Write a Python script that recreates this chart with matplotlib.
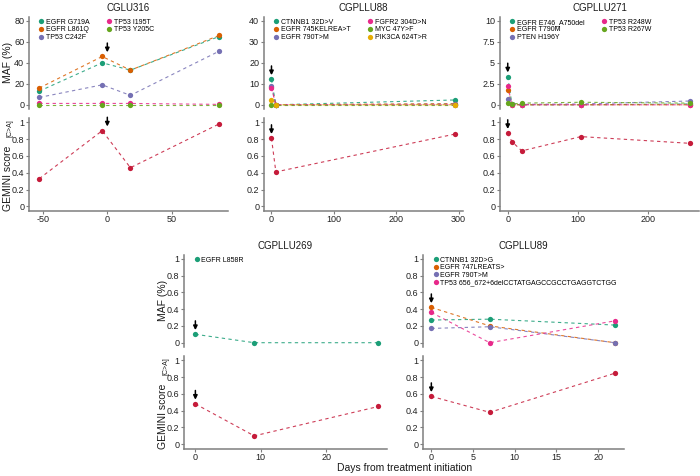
import numpy as np
import matplotlib
matplotlib.use("Agg")
import matplotlib.pyplot as plt
from matplotlib.lines import Line2D

plt.rcParams['font.family'] = ['Liberation Sans', 'DejaVu Sans']

dark2 = ['#1B9E77', '#D95F02', '#7570B3', '#E7298A', '#66A61E', '#E6AB02']
gem_col = '#C51B3A'

# ---- data ----
cglu316_days = [-53, -4, 18, 87]
cglu316_genes = ['EGFR G719A', 'EGFR L861Q', 'TP53 C242F', 'TP53 I195T', 'TP53 Y205C']
cglu316_maf = [[13, 40, 33, 65],
               [16, 46, 33, 66],
               [7, 19, 9, 51],
               [1.3, 1.3, 1.3, 0.4],
               [0, 0, 0, 0]]
cglu316_gemini = [0.33, 0.90, 0.46, 0.98]

cgpllu88_days = [0, 7, 294]
cgpllu88_genes = ['CTNNB1 32D>V', 'EGFR 745KELREA>T', 'EGFR 790T>M',
                  'FGFR2 304D>N', 'MYC 47Y>F', 'PIK3CA 624T>R']
cgpllu88_maf = [[12.1, 0, 2.3],
                [8.5, 0, 0.6],
                [8.9, 0, 0.3],
                [8.0, 0, 0],
                [0, 0, 0],
                [2.5, 0, 0]]
cgpllu88_gemini = [0.81, 0.41, 0.86]

cgpllu271_days = [0, 6, 20, 104, 259]
cgpllu271_genes = ['EGFR E746_A750del', 'EGFR T790M', 'PTEN H196Y', 'TP53 R248W', 'TP53 R267W']
cgpllu271_maf = [[3.35, 0.05, 0, 0, 0.1],
                 [1.75, 0, 0, 0, 0],
                 [0.68, 0.1, 0.05, 0.1, 0.45],
                 [2.27, 0, 0, 0, 0],
                 [0.16, 0.1, 0.2, 0.3, 0.2]]
cgpllu271_gemini = [0.87, 0.77, 0.66, 0.83, 0.75]

cgpllu269_days = [0, 9, 28]
cgpllu269_genes = ['EGFR L858R']
cgpllu269_maf = [[0.1, 0, 0]]
cgpllu269_gemini = [0.48, 0.10, 0.45]

cgpllu89_days = [0, 7, 22]
cgpllu89_genes = ['CTNNB1 32D>G', 'EGFR 747LREATS>', 'EGFR 790T>M',
                  'TP53 656_672+6delCCTATGAGCCGCCTGAGGTCTGG']
cgpllu89_maf = [[0.27, 0.28, 0.21],
                [0.42, 0.20, 0],
                [0.17, 0.19, 0],
                [0.36, 0, 0.26]]
cgpllu89_gemini = [0.57, 0.38, 0.845]

W, H = 700, 476
fig = plt.figure(figsize=(7, 4.76), dpi=100)


def px_axes(left, top, right, bottom):
    return fig.add_axes([left / W, 1 - bottom / H, (right - left) / W, (bottom - top) / H])


def style(ax, xaxis=True):
    for s in ['top', 'right']:
        ax.spines[s].set_visible(False)
    for s in ['left', 'bottom']:
        ax.spines[s].set_color('#7f7f7f')
        ax.spines[s].set_linewidth(1.1)
    ax.tick_params(length=2, width=0.8, color='#7f7f7f', labelsize=6.5,
                   labelcolor='#222222', pad=1.5)
    if not xaxis:
        ax.spines['bottom'].set_visible(False)
        ax.tick_params(axis='x', bottom=False, labelbottom=False)


def fmt(v):
    return '%g' % v


def arrow(ax, ytop, yrange):
    # treatment start marker at day 0
    tip = ytop + 0.05 * yrange
    tail = tip + 0.11 * yrange
    ax.annotate('', xy=(0, tip), xytext=(0, tail),
                arrowprops=dict(arrowstyle='-|>', color='black', lw=1.1,
                                mutation_scale=6, shrinkA=0, shrinkB=0),
                annotation_clip=False)


def panel(name, days, genes, maf, gemini, left, top, right, xlim, xticks, yticks_maf,
          ncol, ylab_x=None):
    ymax = yticks_maf[-1]
    ax1 = px_axes(left, top, right, top + 92.4)
    ax2 = px_axes(left, top + 101.5, right, top + 194)
    i0 = int(np.argmin(np.abs(days)))

    # MAF panel
    for i, vals in enumerate(maf):
        ax1.plot(days, vals, color=dark2[i], lw=0.8, ls=(0, (3, 3)), alpha=0.85)
    for i, vals in enumerate(maf):
        ax1.plot(days, vals, 'o', color=dark2[i], ms=3.8, mec='none')
    ax1.set_xlim(xlim)
    ax1.set_ylim(-0.05 * ymax, 1.05 * ymax)
    ax1.set_yticks(yticks_maf)
    ax1.set_yticklabels([fmt(v) for v in yticks_maf])
    style(ax1, xaxis=False)
    arrow(ax1, max(v[i0] for v in maf), ymax)
    handles = [Line2D([], [], marker='o', ls='none', color=dark2[i], ms=3.8, mec='none')
               for i in range(len(genes))]
    ax1.legend(handles, genes, ncol=ncol, loc='upper left', bbox_to_anchor=(0.045, 0.975),
               frameon=False, fontsize=5, handletextpad=0.2, handlelength=1.0,
               labelspacing=0.08, columnspacing=2.2, borderaxespad=0, borderpad=0)
    ax1.set_title(name, fontsize=7, color='#1a1a1a', pad=4)

    # GEMINI panel
    ax2.plot(days, gemini, color=gem_col, lw=0.8, ls=(0, (3, 3)), alpha=0.85)
    ax2.plot(days, gemini, 'o', color=gem_col, ms=3.8, mec='none')
    ax2.set_xlim(xlim)
    ax2.set_ylim(-0.05, 1.05)
    gt = [0, 0.2, 0.4, 0.6, 0.8, 1]
    ax2.set_yticks(gt)
    ax2.set_yticklabels([fmt(v) for v in gt])
    ax2.set_xticks(xticks)
    ax2.set_xticklabels([fmt(v) for v in xticks])
    style(ax2)
    arrow(ax2, gemini[i0], 1.0)

    if ylab_x is not None:
        fig.text(ylab_x / W, 1 - (top + 46) / H, 'MAF (%)', rotation=90,
                 ha='center', va='center', fontsize=7.5, color='#1a1a1a')
        fig.text(ylab_x / W, 1 - (top + 162) / H, 'GEMINI score', rotation=90,
                 ha='center', va='center', fontsize=7.5, color='#1a1a1a')
        fig.text((ylab_x + 2.5) / W, 1 - (top + 112) / H, '[C>A]', rotation=90,
                 ha='center', va='center', fontsize=5, color='#1a1a1a')


panel('CGLU316', cglu316_days, cglu316_genes, cglu316_maf, cglu316_gemini,
      29, 16.6, 228, (-61, 94), [-50, 0, 50], [0, 20, 40, 60, 80], 2, ylab_x=8)
panel('CGPLLU88', cgpllu88_days, cgpllu88_genes, cgpllu88_maf, cgpllu88_gemini,
      264, 16.6, 463, (-12, 307), [0, 100, 200, 300], [0, 10, 20, 30, 40], 2)
panel('CGPLLU271', cgpllu271_days, cgpllu271_genes, cgpllu271_maf, cgpllu271_gemini,
      500, 16.6, 699, (-11, 272), [0, 100, 200], [0, 2.5, 5, 7.5, 10], 2)
panel('CGPLLU269', cgpllu269_days, cgpllu269_genes, cgpllu269_maf, cgpllu269_gemini,
      184, 254.5, 387, (-1.74, 29.3), [0, 10, 20], [0, 0.2, 0.4, 0.6, 0.8, 1], 1,
      ylab_x=163)
panel('CGPLLU89', cgpllu89_days, cgpllu89_genes, cgpllu89_maf, cgpllu89_gemini,
      423, 254.5, 624, (-1, 23.1), [0, 5, 10, 15, 20], [0, 0.2, 0.4, 0.6, 0.8, 1], 1)

fig.text(405 / W, 1 - 468 / H, 'Days from treatment initiation', ha='center',
         va='center', fontsize=7.5, color='#1a1a1a')

fig.savefig('out.png', dpi=100)
